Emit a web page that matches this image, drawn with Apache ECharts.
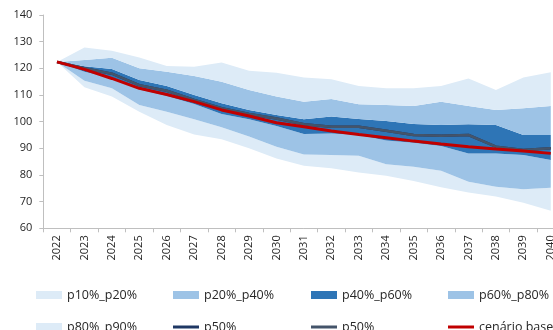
<!DOCTYPE html>
<html>
<head>
<meta charset="utf-8">
<script src="https://cdn.jsdelivr.net/npm/echarts@6/dist/echarts.min.js"></script>
<style>
  html, body { margin: 0; padding: 0; background: #ffffff; overflow: hidden; }
  /* plot area runs past the right edge of the page, cutting the last column */
  #chart { width: 565px; height: 330px; }
</style>
</head>
<body>
<div id="chart"></div>
<script>
// Fan chart of projected values, 2022-2040
const years = ['2022','2023','2024','2025','2026','2027','2028','2029','2030','2031',
               '2032','2033','2034','2035','2036','2037','2038','2039','2040'];

// Percentile bounds
const p10 = [122.4, 112.9, 109.4, 103.7, 98.7, 95.2, 93.4, 90.0, 86.2, 83.5, 82.5, 80.9, 79.7, 77.7, 75.4, 73.4, 71.9, 69.6, 66.6];
const p20 = [122.4, 115.3, 112.5, 106.2, 103.7, 100.9, 97.9, 94.4, 90.6, 87.7, 87.5, 87.2, 84.0, 83.1, 81.6, 77.5, 75.6, 74.6, 75.2];
const p40 = [122.4, 118.7, 116.4, 112.1, 109.6, 106.6, 102.9, 100.9, 98.4, 95.4, 95.6, 95.0, 92.9, 92.1, 90.9, 88.1, 88.1, 87.5, 85.6];
const p60 = [122.4, 120.8, 119.7, 115.6, 113.4, 110.0, 106.9, 104.4, 102.5, 100.9, 101.9, 101.0, 100.2, 99.1, 98.7, 99.0, 98.7, 95.0, 95.0];
const p80 = [122.4, 123.1, 124.0, 120.0, 118.7, 117.1, 115.0, 111.9, 109.4, 107.5, 108.5, 106.5, 106.2, 105.9, 107.5, 105.9, 104.4, 105.0, 105.9];
const p90 = [122.4, 127.8, 126.6, 124.1, 120.9, 120.6, 122.2, 119.1, 118.3, 116.6, 115.9, 113.4, 112.5, 112.5, 113.4, 116.2, 111.9, 116.6, 118.5];

// Median paths and baseline scenario
const p50 = [122.4, 120.0, 118.0, 113.7, 111.6, 108.1, 105.0, 102.9, 101.2, 99.0, 98.1, 98.1, 96.6, 95.0, 94.7, 95.0, 90.6, 89.4, 90.0];
const cenarioBase = [122.4, 119.6, 116.2, 112.5, 110.2, 107.5, 104.4, 102.1, 99.6, 98.1, 96.5, 95.2, 94.0, 92.7, 91.6, 90.6, 89.7, 89.0, 88.1];

const yTicks = { min: 60, max: 140, step: 10 };

const C_LIGHT = '#DDEBF7';
const C_MID = '#9DC3E6';
const C_DARK = '#2E75B6';
const C_NAVY = '#1F3864';
const C_SLATE = '#44546A';
const C_RED = '#C00000';
const FONT = 'Open Sans';

const diff = (hi, lo) => hi.map((v, i) => +(v - lo[i]).toFixed(2));

function band(name, data, color) {
  return {
    name, type: 'line', stack: 'fan', data,
    symbol: 'none', silent: true,
    lineStyle: { width: 0 },
    itemStyle: { color },
    areaStyle: { color, opacity: 1 },
    z: 1
  };
}

function line(name, data, color, width, z) {
  return {
    name, type: 'line', data,
    symbol: 'none', silent: true,
    lineStyle: { color, width },
    itemStyle: { color },
    z
  };
}

const series = [
  { name: 'base', type: 'line', stack: 'fan', data: p10, symbol: 'none', silent: true,
    lineStyle: { width: 0 }, itemStyle: { color: 'transparent' }, z: 1 },
  band('p10%_p20%', diff(p20, p10), C_LIGHT),
  band('p20%_p40%', diff(p40, p20), C_MID),
  band('p40%_p60%', diff(p60, p40), C_DARK),
  band('p60%_p80%', diff(p80, p60), C_MID),
  band('p80%_p90%', diff(p90, p80), C_LIGHT),
  line('p50%', p50, C_NAVY, 2.5, 3),
  line('p50%', p50, C_SLATE, 2.5, 4),
  line('cenário base', cenarioBase, C_RED, 3, 5)
];

// Legend laid out in a fixed 4-column grid
const legendCols = [36, 173, 311, 448];
const legendRows = [288, 320];
const legendItems = [
  { name: 'p10%_p20%', color: C_LIGHT, h: 8 },
  { name: 'p20%_p40%', color: C_MID, h: 8 },
  { name: 'p40%_p60%', color: C_DARK, h: 8 },
  { name: 'p60%_p80%', color: C_MID, h: 8 },
  { name: 'p80%_p90%', color: C_LIGHT, h: 8 },
  { name: 'p50%', color: C_NAVY, h: 3 },
  { name: 'p50%', color: C_SLATE, h: 3 },
  { name: 'cenário base', color: C_RED, h: 3 }
];
const legends = legendItems.map((it, i) => ({
  left: legendCols[i % 4],
  top: legendRows[Math.floor(i / 4)],
  orient: 'horizontal',
  padding: 0,
  icon: 'rect',
  itemWidth: 26,
  itemHeight: it.h,
  selectedMode: false,
  textStyle: { fontFamily: FONT, fontSize: 12.5, color: '#262626', lineHeight: 14 },
  data: [{ name: it.name, icon: 'rect', itemStyle: { color: it.color, borderWidth: 0 } }]
}));

const chart = echarts.init(document.getElementById('chart'), null, { renderer: 'canvas' });
chart.setOption({
  animation: false,
  backgroundColor: '#ffffff',
  grid: { left: 43.3, top: 15, right: 0.5, height: 213.3, containLabel: false },
  legend: legends,
  xAxis: {
    type: 'category',
    data: years,
    boundaryGap: true,
    axisLine: { lineStyle: { color: '#BFBFBF', width: 1 } },
    axisTick: { show: true, alignWithLabel: false, length: 4, lineStyle: { color: '#BFBFBF' } },
    axisLabel: { interval: 0, rotate: 90, margin: 7, fontFamily: FONT, fontSize: 11, color: '#262626' },
    splitLine: { show: false }
  },
  yAxis: {
    type: 'value',
    min: yTicks.min, max: yTicks.max, interval: yTicks.step,
    axisLine: { show: true, lineStyle: { color: '#BFBFBF', width: 1 } },
    axisTick: { show: true, length: 4, lineStyle: { color: '#BFBFBF' } },
    axisLabel: { margin: 11, fontFamily: FONT, fontSize: 11, color: '#262626' },
    splitLine: { show: false }
  },
  series
});
</script>
</body>
</html>
